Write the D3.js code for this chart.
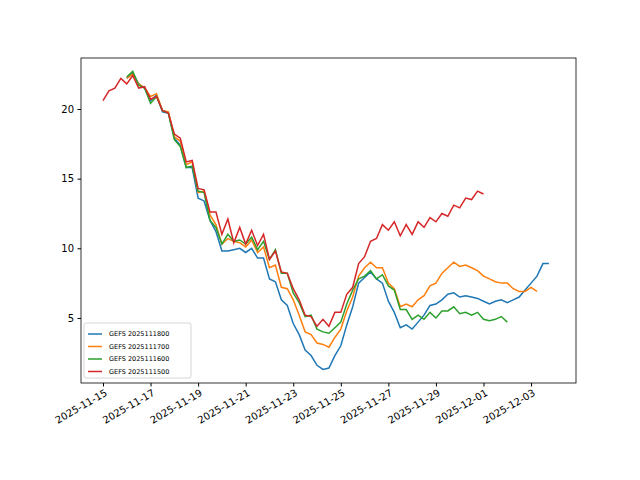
<!DOCTYPE html>
<html><head><meta charset="utf-8">
<script src="https://cdn.jsdelivr.net/npm/d3@7"></script>
<style>body{margin:0;background:#fff}text{font-family:"DejaVu Sans",sans-serif}</style>
</head><body><div id="chart"></div>
<script>
// series labels and values (6-hourly)
var labels = ["GEFS 2025111800", "GEFS 2025111700", "GEFS 2025111600", "GEFS 2025111500"];
var colors = ["#1f77b4", "#ff7f0e", "#2ca02c", "#d62728"];
var starts = ["2025-11-16T00:00", "2025-11-16T00:00", "2025-11-16T00:00", "2025-11-15T00:00"];

var blue = [22.2,22.6,21.8,21.5,20.6,21.0,19.8,19.7,17.9,17.4,15.8,15.8,13.6,13.4,12.0,11.2,9.8,9.8,9.9,10.0,9.7,10.0,9.3,9.3,7.8,7.6,6.3,5.9,4.6,3.8,2.7,2.3,1.6,1.3,1.4,2.3,3.0,4.5,5.8,7.5,7.9,8.3,7.8,7.5,6.2,5.4,4.3,4.5,4.2,4.7,5.2,5.9,6.0,6.3,6.7,6.8,6.5,6.6,6.5,6.4,6.2,6.0,6.2,6.3,6.1,6.3,6.5,7.0,7.5,8.0,8.9,8.9];
var orange = [22.2,22.5,21.8,21.5,20.9,21.1,19.9,19.8,18.0,17.7,16.0,16.2,14.0,14.1,12.4,11.7,10.3,10.7,10.5,10.4,10.1,10.6,9.7,10.1,8.6,8.8,7.2,7.1,6.3,5.2,4.0,3.8,3.2,3.1,2.9,3.6,4.2,5.5,6.5,8.0,8.6,9.0,8.6,8.6,7.5,7.1,5.8,6.0,5.8,6.3,6.6,7.3,7.5,8.2,8.6,9.0,8.7,8.8,8.6,8.4,8.0,7.8,7.6,7.5,7.5,7.1,6.9,6.9,7.2,6.9];
var green = [22.3,22.7,21.7,21.5,20.4,20.9,19.9,19.7,17.8,17.3,15.8,15.9,14.1,14.0,12.0,11.5,10.3,11.0,10.5,10.6,10.3,10.8,9.9,10.5,9.2,9.9,8.2,8.2,6.8,6.1,5.1,5.2,4.2,4.0,3.9,4.3,4.7,6.0,7.0,7.8,8.0,8.4,7.8,8.1,7.3,7.0,5.6,5.6,4.9,5.2,4.9,5.4,5.0,5.5,5.5,5.8,5.3,5.4,5.2,5.4,4.9,4.8,4.9,5.1,4.7];
var red = [20.6,21.3,21.5,22.2,21.8,22.4,21.5,21.6,20.7,20.9,19.9,19.7,18.2,17.9,16.2,16.3,14.3,14.2,12.6,12.6,11.0,12.1,10.4,11.5,10.3,11.3,10.2,11.0,9.2,9.8,8.3,8.2,7.1,6.3,5.2,5.1,4.4,4.9,4.4,5.4,5.4,6.7,7.2,8.9,9.4,10.5,10.7,11.7,11.3,11.9,10.9,11.7,11.0,11.9,11.5,12.2,11.9,12.5,12.3,13.1,12.9,13.6,13.5,14.1,13.9];
var values = [blue, orange, green, red];
var tickDates = ["2025-11-15","2025-11-17","2025-11-19","2025-11-21","2025-11-23","2025-11-25","2025-11-27","2025-11-29","2025-12-01","2025-12-03"];
var yTicks = [5, 10, 15, 20];

var svgWidth = 640, svgHeight = 480;
var margin = {top: 58, bottom: 97, left: 81, right: 64};
var width = svgWidth - margin.left - margin.right;
var height = svgHeight - margin.top - margin.bottom;
var day = 86400000;

var svg = d3.select("#chart").append("svg")
    .attr("width", svgWidth).attr("height", svgHeight);
var g = svg.append("g").attr("transform", `translate(${margin.left}, ${margin.top})`);

var t0 = new Date("2025-11-15T00:00").getTime();
var x = d3.scaleTime()
    .domain([new Date(t0 - 0.925 * day), new Date(t0 + 19.89 * day)])
    .range([0, width]);
var y = d3.scaleLinear().domain([0.33, 23.66]).range([height, 0]);

var xAxis = g.append("g").attr("transform", `translate(0, ${height})`)
    .call(d3.axisBottom(x).tickValues(tickDates.map(d => new Date(d + "T00:00")))
        .tickFormat(d3.timeFormat("%Y-%m-%d")).tickSizeOuter(0).tickSize(3.5).tickPadding(3));
xAxis.selectAll("text").attr("font-size", 10).attr("fill", "#000")
    .style("text-anchor", "end").attr("dx", "-0.2em").attr("dy", "0.6em")
    .attr("transform", "rotate(-30)");
var yAxis = g.append("g")
    .call(d3.axisLeft(y).tickValues(yTicks).tickSizeOuter(0).tickSize(3.5).tickPadding(3.5));
yAxis.selectAll("text").attr("font-size", 10).attr("fill", "#000");
g.selectAll(".domain").remove();
g.append("rect").attr("width", width).attr("height", height)
    .attr("fill", "none").attr("stroke", "#000").attr("stroke-width", 0.8);

var line = d3.line().x(d => x(d.t)).y(d => y(d.v));
// draw red first so blue ends on top like matplotlib order reversed? keep plot order
values.forEach((vals, i) => {
    var s = new Date(starts[i]).getTime();
    var pts = vals.map((v, k) => ({t: new Date(s + k * day / 4), v: v}));
    g.append("path").datum(pts).attr("d", line)
        .attr("fill", "none").attr("stroke", colors[i]).attr("stroke-width", 1.5);
});

// legend
var lg = g.append("g").attr("transform", "translate(3, 265)");
lg.append("rect").attr("width", 107).attr("height", 55).attr("rx", 2)
    .attr("fill", "#fff").attr("fill-opacity", 0.8).attr("stroke", "#ccc").attr("stroke-width", 0.8);
labels.forEach((l, i) => {
    var yy = 11 + i * 12.5;
    lg.append("line").attr("x1", 4).attr("x2", 18).attr("y1", yy).attr("y2", yy)
        .attr("stroke", colors[i]).attr("stroke-width", 1.5);
    lg.append("text").attr("x", 25).attr("y", yy).attr("dy", "0.35em")
        .attr("font-size", 6.5).text(l);
});
</script></body></html>
